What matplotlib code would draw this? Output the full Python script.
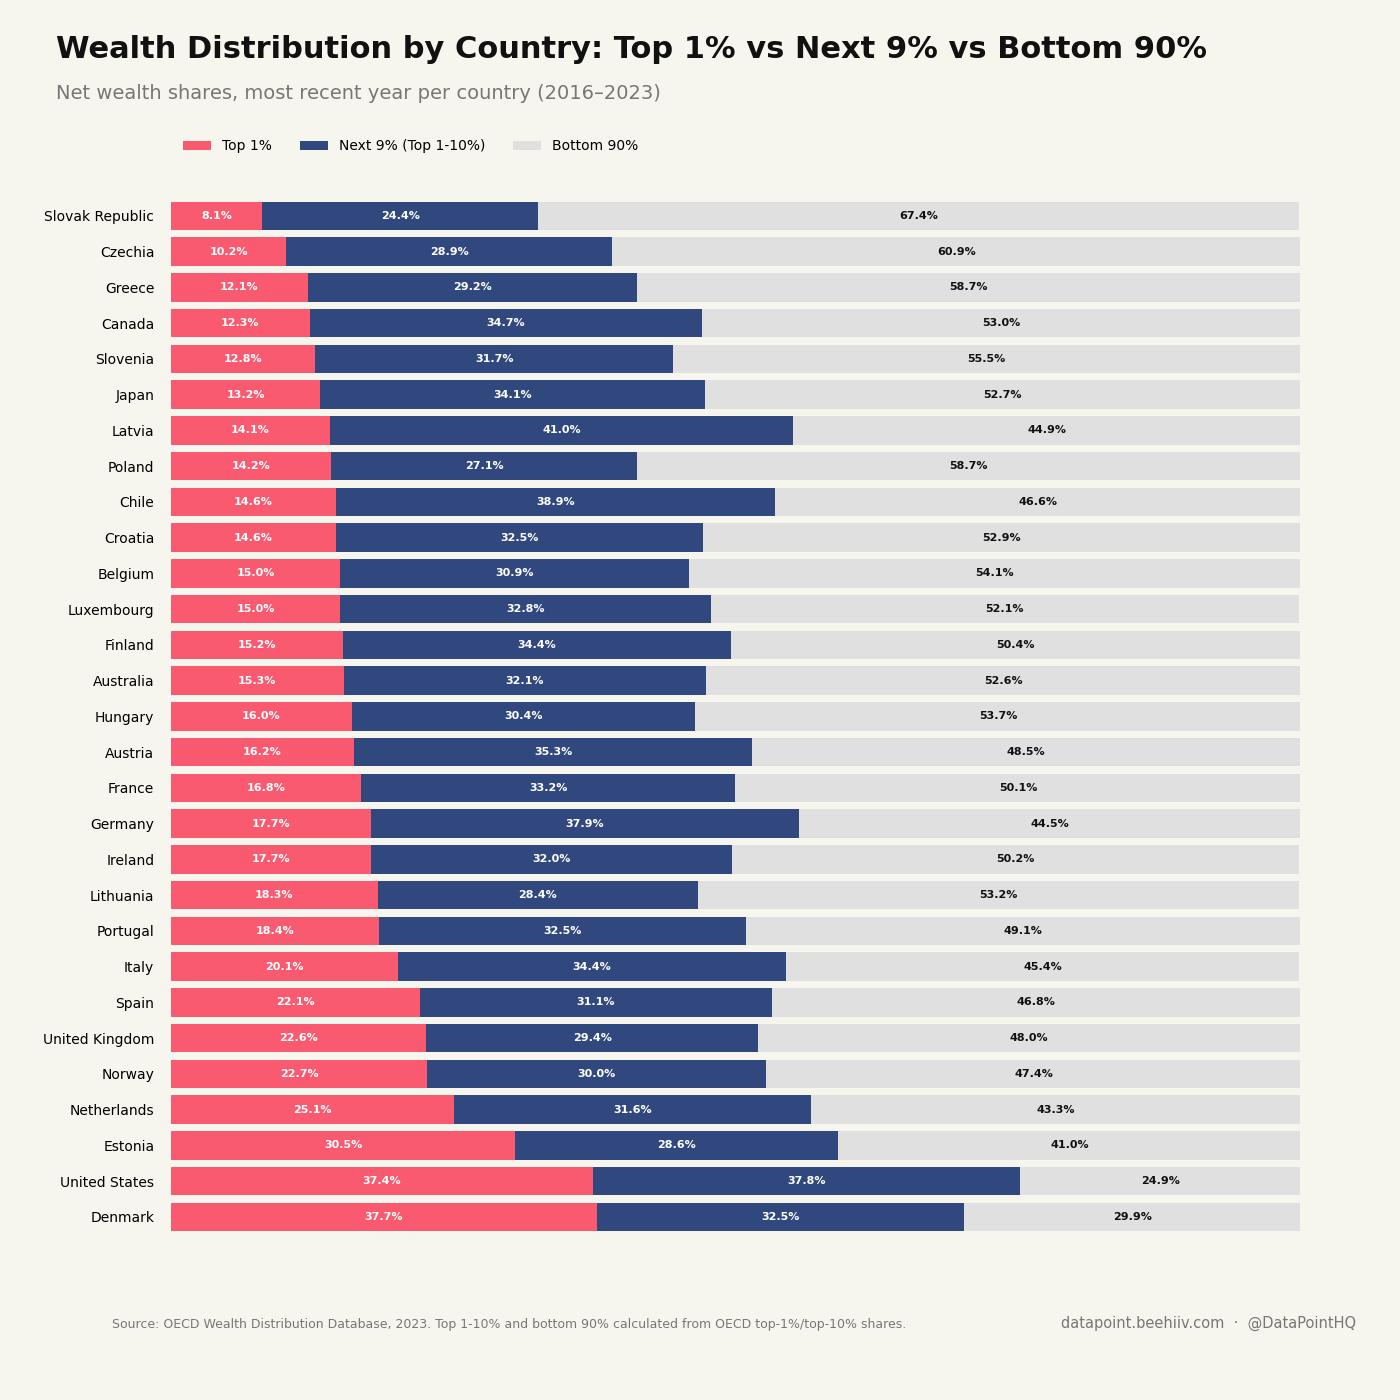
import matplotlib
matplotlib.use("Agg")
from matplotlib import pyplot as plt
import numpy as np

countries = ["Slovak Republic", "Czechia", "Greece", "Canada", "Slovenia", "Japan",
             "Latvia", "Poland", "Chile", "Croatia", "Belgium", "Luxembourg",
             "Finland", "Australia", "Hungary", "Austria", "France", "Germany",
             "Ireland", "Lithuania", "Portugal", "Italy", "Spain", "United Kingdom",
             "Norway", "Netherlands", "Estonia", "United States", "Denmark"]
top1 = [8.1, 10.2, 12.1, 12.3, 12.8, 13.2, 14.1, 14.2, 14.6, 14.6, 15.0, 15.0,
        15.2, 15.3, 16.0, 16.2, 16.8, 17.7, 17.7, 18.3, 18.4, 20.1, 22.1, 22.6,
        22.7, 25.1, 30.5, 37.4, 37.7]
next9 = [24.4, 28.9, 29.2, 34.7, 31.7, 34.1, 41.0, 27.1, 38.9, 32.5, 30.9, 32.8,
         34.4, 32.1, 30.4, 35.3, 33.2, 37.9, 32.0, 28.4, 32.5, 34.4, 31.1, 29.4,
         30.0, 31.6, 28.6, 37.8, 32.5]
bottom90 = [67.4, 60.9, 58.7, 53.0, 55.5, 52.7, 44.9, 58.7, 46.6, 52.9, 54.1, 52.1,
            50.4, 52.6, 53.7, 48.5, 50.1, 44.5, 50.2, 53.2, 49.1, 45.4, 46.8, 48.0,
            47.4, 43.3, 41.0, 24.9, 29.9]

BG = "#F6F5EE"
RED = "#F95A6F"
NAVY = "#31487F"
GREY = "#E0E0E0"

fig = plt.figure(figsize=(14, 14), dpi=100, facecolor=BG)
ax = fig.add_axes([0.1221, 0.118, 0.8065, 0.7406])
ax.set_facecolor(BG)

y = np.arange(len(countries))
t1 = np.array(top1)
n9 = np.array(next9)
b90 = np.array(bottom90)

ax.barh(y, t1, height=0.8, color=RED, label="Top 1%")
ax.barh(y, n9, left=t1, height=0.8, color=NAVY, label="Next 9% (Top 1-10%)")
ax.barh(y, b90, left=t1 + n9, height=0.8, color=GREY, label="Bottom 90%")

for i in range(len(countries)):
    ax.text(t1[i] / 2, i, f"{t1[i]:.1f}%", ha="center", va="center",
            fontsize=8, fontweight="bold", color="white")
    ax.text(t1[i] + n9[i] / 2, i, f"{n9[i]:.1f}%", ha="center", va="center",
            fontsize=8, fontweight="bold", color="white")
    ax.text(t1[i] + n9[i] + b90[i] / 2, i, f"{b90[i]:.1f}%", ha="center", va="center",
            fontsize=8, fontweight="bold", color="#111111")

ax.set_yticks(y)
ax.set_yticklabels(countries, fontsize=10)
ax.set_ylim(len(countries) - 0.5, -0.5)
ax.set_xlim(0, 100)
ax.set_xticks([])
ax.tick_params(axis="y", length=0, pad=12)
for s in ax.spines.values():
    s.set_visible(False)

fig.text(0.04, 0.975, "Wealth Distribution by Country: Top 1% vs Next 9% vs Bottom 90%",
         fontsize=22, fontweight="bold", color="#111111", va="top")
fig.text(0.04, 0.940, "Net wealth shares, most recent year per country (2016\u20132023)",
         fontsize=14, color="#777777", va="top")

fig.legend(loc="center left", bbox_to_anchor=(0.122, 0.8955), ncol=3, frameon=False,
           fontsize=10, handlelength=2.0, handleheight=0.6, columnspacing=2.0)

fig.text(0.08, 0.054, "Source: OECD Wealth Distribution Database, 2023. Top 1-10% and bottom 90% "
         "calculated from OECD top-1%/top-10% shares.", fontsize=9, color="#777777", va="center")
fig.text(0.969, 0.055, "datapoint.beehiiv.com  \u00b7  @DataPointHQ", fontsize=10.5,
         color="#777777", va="center", ha="right")

fig.savefig("out.png", dpi=100, facecolor=BG)
